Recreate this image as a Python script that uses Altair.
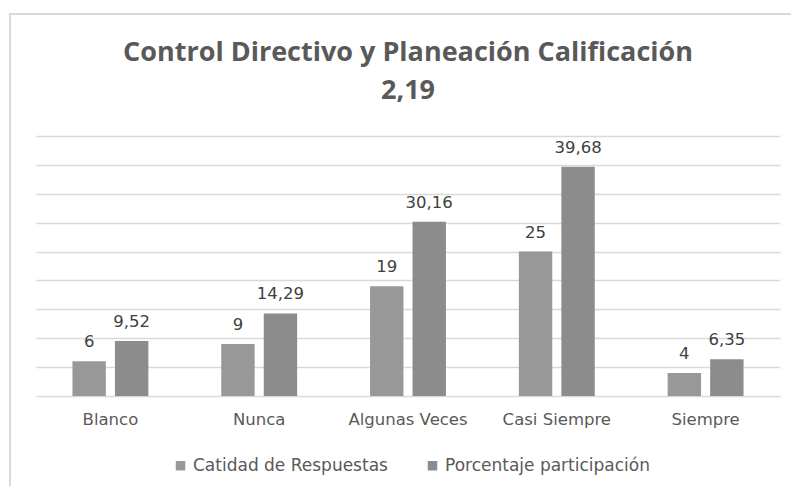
import altair as alt
import pandas as pd

categories = ["Blanco", "Nunca", "Algunas Veces", "Casi Siempre", "Siempre"]
series_names = ["Catidad de Respuestas", "Porcentaje participación"]
cantidad = [6, 9, 19, 25, 4]
porcentaje = [9.52, 14.29, 30.16, 39.68, 6.35]
title_lines = ["Control Directivo y Planeación Calificación", "2,19"]

rows = []
for c, v in zip(categories, cantidad):
    rows.append({"cat": c, "serie": series_names[0], "val": v})
for c, v in zip(categories, porcentaje):
    rows.append({"cat": c, "serie": series_names[1], "val": v})
df = pd.DataFrame(rows)
df["label"] = df["val"].map(lambda v: f"{v:g}".replace(".", ","))

FONT = "DejaVu Sans"
TFONT = "Open Sans"
W, H = 744, 260

x_enc = alt.X("cat:N", sort=categories, title=None,
              scale=alt.Scale(paddingInner=0.49, paddingOuter=0.245),
              axis=alt.Axis(labelAngle=0, ticks=False, domain=False, labelFontSize=16.5,
                            labelColor="#595959", labelFont=FONT, labelPadding=15))
xo = alt.XOffset("serie:N", sort=series_names,
                 scale=alt.Scale(paddingInner=0.214, paddingOuter=0))
y_enc = alt.Y("val:Q", title=None, scale=alt.Scale(domain=[0, 45], nice=False),
              axis=alt.Axis(values=list(range(0, 50, 5)), labels=False, ticks=False,
                            domain=False, grid=True, gridColor="#d9d9d9", gridWidth=1.3))

bars = alt.Chart(df).mark_bar().encode(
    x=x_enc, xOffset=xo, y=y_enc,
    color=alt.Color("serie:N", sort=series_names, title=None,
                    scale=alt.Scale(domain=series_names, range=["#989898", "#8c8c8c"]),
                    legend=alt.Legend(orient="none", legendX=136, legendY=321,
                                      direction="horizontal", symbolType="square",
                                      symbolSize=90, symbolStrokeWidth=0, labelLimit=0,
                                      labelFontSize=17, labelColor="#595959",
                                      labelFont=FONT, columnPadding=36, labelOffset=4)),
)

labels = alt.Chart(df).mark_text(fontSize=16.5, color="#404040", font=FONT,
                                 baseline="alphabetic", dy=-14).encode(
    x=x_enc, xOffset=xo, y=y_enc, text="label:N",
)

border_df = pd.DataFrame({"k": [0]})
left_border = alt.Chart(border_df).mark_rule(color="#d9d9d9", strokeWidth=2).encode(
    x=alt.value(-26), y=alt.value(-122), y2=alt.value(370))
top_border = alt.Chart(border_df).mark_rule(color="#d9d9d9", strokeWidth=2).encode(
    x=alt.value(-27), x2=alt.value(770), y=alt.value(-122))

chart = alt.layer(left_border, top_border, bars, labels).properties(
    width=W, height=H,
    title=alt.TitleParams(text=title_lines, fontSize=27, font=TFONT, fontWeight="bold",
                          color="#595959", anchor="middle", lineHeight=38, offset=0, dy=92),
    padding={"left": 28, "top": 128, "right": 11, "bottom": 90},
    autosize=alt.AutoSizeParams(type="none"),
).configure_view(stroke=None)

chart.save("out.html", embed_options={"renderer": "svg", "actions": False})
